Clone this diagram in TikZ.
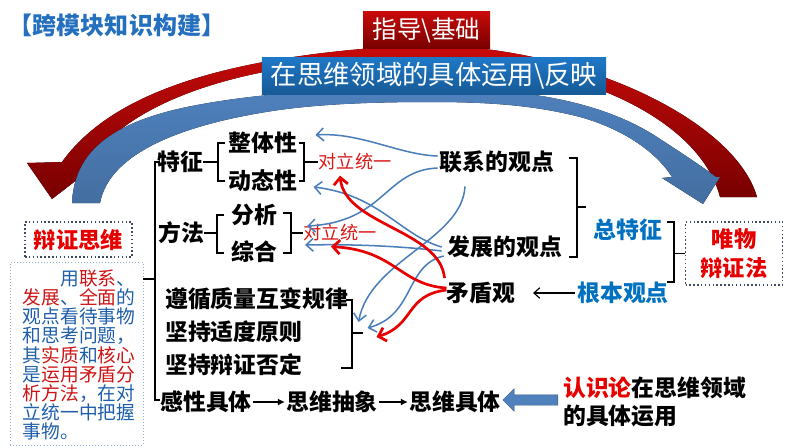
\documentclass[tikz,border=0pt]{standalone}
\usepackage{fontspec}
\setmainfont{Noto Sans CJK SC}
\usetikzlibrary{arrows.meta, shapes.arrows}

\definecolor{titleblue}{RGB}{36,112,190}
\definecolor{ptblue}{RGB}{0,112,192}
\definecolor{ptred}{RGB}{230,0,0}
\definecolor{duired}{RGB}{215,25,25}
\definecolor{parablue}{RGB}{31,95,170}
\definecolor{parared}{RGB}{205,20,20}
\definecolor{arcblue}{RGB}{79,129,189}
\definecolor{linkblue}{RGB}{74,126,187}
\definecolor{arcred}{RGB}{200,10,10}
\definecolor{darkred}{RGB}{120,0,0}
\definecolor{boxblue}{RGB}{30,120,200}
\definecolor{dotgray}{RGB}{60,74,95}

\tikzset{
  kw/.style={font=\fontsize{19.5}{22}\selectfont\bfseries, inner sep=0pt},
  dui/.style={font=\fontsize{15.5}{18}\selectfont, text=duired, inner sep=0pt},
  brk/.style={line width=1.4pt},
  bluelink/.style={draw=linkblue, line width=1.3pt, -{Straight Barb[length=6pt,width=11pt]}},
  redlink/.style={draw=ptred, line width=2.3pt, -{Straight Barb[length=6pt,width=12pt]}},
  dotbox/.style={draw=dotgray, dotted, line width=1.3pt},
}

\begin{document}
\begin{tikzpicture}[x=0.03cm, y=-0.03cm]
    \useasboundingbox (0,0) rectangle (794,447);

    % Big arcs
    \fill[top color=arcred, bottom color=darkred]
      (62,162) .. controls (110,95) and (220,55) .. (420,45)
      .. controls (580,45) and (735,120) .. (757,197) -- (720,197)
      .. controls (700,120) and (580,60) .. (420,58)
      .. controls (250,58) and (130,100) .. (90,162)
      -- (100,162) -- (52,199) -- (27,163) -- cycle;
    \fill[top color=arcblue, bottom color=arcblue!85!black]
      (72,203) .. controls (74,160) and (100,125) .. (187,107)
      .. controls (260,92) and (350,88) .. (430,88)
      .. controls (520,88) and (600,100) .. (657,137)
      .. controls (680,152) and (700,165) .. (716,177)
      -- (720,177) -- (703,204) -- (662,178) -- (672,177)
      .. controls (655,150) and (620,128) .. (580,117)
      .. controls (530,104) and (480,102) .. (430,102)
      .. controls (350,102) and (300,106) .. (260,113)
      .. controls (190,125) and (110,150) .. (100,203) -- cycle;

    % Top boxes
    \node[top color=arcred, bottom color=darkred, text=white, minimum width=3.81cm, minimum height=1.08cm,
      font=\fontsize{21}{24}\selectfont] (guide) at (426.5,30) {指导\textbackslash 基础};
    \node[top color=boxblue, bottom color=boxblue!75!black, text=white, minimum width=10.32cm, minimum height=1.11cm,
      font=\fontsize{22.5}{26}\selectfont] (reflect) at (434,75.5) {在思维领域的具体运用\textbackslash 反映};
    \node[text=titleblue, font=\fontsize{20.5}{24}\selectfont\bfseries] (title) at (117,25) {【跨模块知识构建】};

    % Left boxes
    \node[dotbox, text=ptred, minimum width=3.21cm, minimum height=1.05cm,
      font=\fontsize{19}{22}\selectfont\bfseries] (thinking) at (78.5,239.5) {辩证思维};
    \node[draw=parablue!50, dotted, line width=0.6pt, minimum width=3.99cm, minimum height=5.49cm] (parabox) at (76.5,353.5) {};
    \node[text=parablue, align=left, inner sep=0pt, font=\fontsize{16}{16.4}\selectfont] (para) at (79,355)
      {\hspace*{2em}用\textcolor{parared}{联系}、\\
       \textcolor{parared}{发展}、\textcolor{parared}{全面}的\\
       观点看待事物\\
       和思考问题，\\
       其\textcolor{parared}{实质}和\textcolor{parared}{核心}\\
       是\textcolor{parared}{运用矛盾分}\\
       \textcolor{parared}{析方法}，在对\\
       立统一中把握\\
       事物。};

    % Draw nodes
    \node[kw] (tezheng) at (180,162) {特征};
    \node[kw] (zhengti) at (263,143) {整体性};
    \node[kw] (dongtai) at (263,181) {动态性};
    \node[dui] (duili1) at (355,162) {对立统一};
    \node[kw] (fangfa) at (181,233) {方法};
    \node[kw] (fenxi) at (254,215) {分析};
    \node[kw] (zonghe) at (254,252) {综合};
    \node[dui] (duili2) at (340,233) {对立统一};
    \node[kw] (lianxi) at (497,162) {联系的观点};
    \node[kw] (fazhan) at (505,247) {发展的观点};
    \node[kw] (maodun) at (481,293) {矛盾观};
    \node[kw, text=ptblue] (zong) at (628,230) {总特征};
    \node[kw, text=ptblue] (genben) at (623,293) {根本观点};
    \node[dotbox, text=ptred, align=center, minimum width=2.91cm, minimum height=1.89cm,
      font=\fontsize{19}{25.5}\selectfont\bfseries] (weiwu) at (734,253.5) {唯物\\辩证法};
    \node[kw, anchor=west] (zhiliang) at (165,299) {遵循质量互变规律};
    \node[kw, anchor=west] (shidu) at (165,332) {坚持适度原则};
    \node[kw, anchor=west] (fouding) at (165,365) {坚持辩证否定};
    \node[kw] (ganxing) at (206,402) {感性具体};
    \node[kw] (chouxiang) at (332,402) {思维抽象};
    \node[kw] (juti) at (455,402) {思维具体};
    \node[kw, anchor=west] (renshi) at (563,388) {\textcolor{ptred}{认识论}在思维领域};
    \node[kw, anchor=west] (yunyong) at (563,416) {的具体运用};
    \node[single arrow, fill=arcblue, draw=arcblue!70!black, shape border rotate=180, inner xsep=0pt, inner ysep=0.15cm,
      minimum height=1.65cm, single arrow head extend=0.18cm] (backarrow) at (533,400) {};

    % Brackets
    \draw[brk] (160,162) -- (155,162) -- (155,400) -- (160,400);
    \coordinate (lefttick) at (155,279);
    \draw[brk] (lefttick) -- (lefttick -| parabox.east);
    \draw[brk] (tezheng.east) -- (218,162);
    \draw[brk] (225,143) -- (218,143) -- (218,181) -- (225,181);
    \draw[brk] (fangfa.east) -- (217,233);
    \draw[brk] (224,215) -- (217,215) -- (217,253) -- (224,253);
    \draw[brk] (299,143) -- (304,143) -- (304,181) -- (299,181);
    \draw[brk] (304,162) -- (duili1.west);
    \draw[brk] (283,213) -- (291,213) -- (291,253) -- (283,253);
    \draw[brk] (291,233) -- (duili2.west);
    \draw[brk] (569,158) -- (577,158) -- (577,257) -- (569,257);
    \draw[brk] (577,207) -- (586,207);
    \draw[brk] (667,222) -- (674,222) -- (674,282) -- (667,282);
    \draw[brk] (674,253.5) -- (weiwu.west);
    \draw[brk] (346,300) -- (352,300) -- (352,368) -- (341,368);
    \draw[brk] (352,333) -- (363,333);

    % Draw connections
    \draw[line width=1pt, -{Straight Barb[length=5pt,width=9pt]}, shorten >=15pt, shorten <=2pt] (genben.west) -- (maodun.east);
    \draw[line width=1.2pt, -{Latex[length=6pt,width=6pt]}, shorten >=1pt, shorten <=1pt] (ganxing.east) -- (chouxiang.west);
    \draw[line width=1.2pt, -{Latex[length=6pt,width=6pt]}, shorten >=1pt, shorten <=1pt] (chouxiang.east) -- (juti.west);

    \draw[bluelink] ([shift={(-2,-6)}]lianxi.west) .. controls (400,155) and (360,132) .. ([shift={(18,-8)}]zhengti.east);
    \draw[bluelink] ([shift={(-2,6)}]lianxi.west) .. controls (385,170) and (385,222) .. ([shift={(30,11)}]fenxi.east);
    \draw[bluelink] ([shift={(-32,13)}]lianxi.south) .. controls (462,240) and (370,260) .. ([shift={(56,-10)}]shidu.east);
    \draw[bluelink] ([shift={(-6,0)}]fazhan.west) .. controls (400,235) and (380,195) .. ([shift={(16,6)}]dongtai.east);
    \draw[bluelink] ([shift={(-6,4)}]fazhan.west) .. controls (400,246) and (350,244) .. ([shift={(28,-7)}]zonghe.east);
    \draw[bluelink] ([shift={(-4,9)}]fazhan.west) .. controls (405,265) and (415,315) .. ([shift={(65,-4)}]shidu.east);

    \draw[redlink] ([shift={(-2,-15)}]maodun.west) .. controls (440,230) and (345,225) .. ([shift={(-15,5)}]duili1.south);
    \draw[redlink] ([shift={(0,-5)}]maodun.west) .. controls (400,285) and (395,250) .. ([shift={(-9,5)}]duili2.south);
    \draw[redlink] ([shift={(0,-3)}]maodun.west) .. controls (405,295) and (415,325) .. ([shift={(74,5)}]shidu.east);
\end{tikzpicture}
\end{document}
